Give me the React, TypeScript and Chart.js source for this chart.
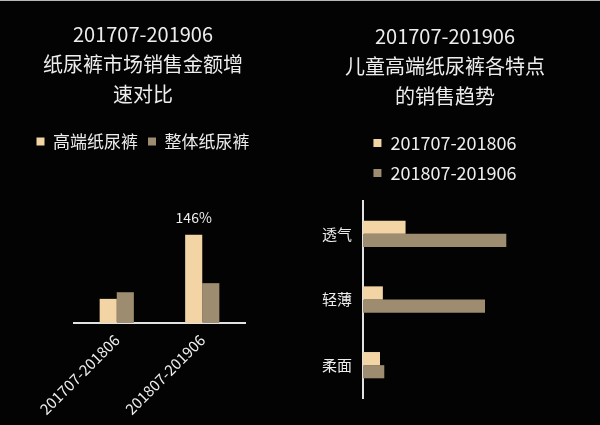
import React, { useEffect, useRef } from "react";
import { Chart, registerables } from "chart.js";

Chart.register(...registerables);

// ---------- data ----------
const leftTitle = ["201707-201906", "纸尿裤市场销售金额增", "速对比"];
const leftCategories = ["201707-201806", "201807-201906"];
const leftSeriesNames = ["高端纸尿裤", "整体纸尿裤"];
const premiumGrowth = [40, 146];
const overallGrowth = [51, 66];
const premiumValueLabels = ["", "146%"];

const rightTitle = ["201707-201906", "儿童高端纸尿裤各特点", "的销售趋势"];
const features = ["透气", "轻薄", "柔面"];
const periodNames = ["201707-201806", "201807-201906"];
const period1Values = [30, 14, 12];
const period2Values = [101, 86, 15];

// ---------- styles ----------
const LIGHT = "#F2D4A5";
const DARK = "#9D8C70";
const TEXT = "#EDEDED";
const AXIS = "#E2E2E2";
const FONT = '"Noto Sans CJK SC", "Noto Sans", sans-serif';

const valueLabelPlugin = {
  id: "valueLabels",
  afterDatasetsDraw(chart: any) {
    const meta = chart.getDatasetMeta(0);
    const ctx = chart.ctx;
    ctx.save();
    ctx.fillStyle = TEXT;
    ctx.font = `14px ${FONT}`;
    ctx.textAlign = "center";
    ctx.textBaseline = "bottom";
    meta.data.forEach((el: any, i: number) => {
      const t = premiumValueLabels[i];
      if (t) ctx.fillText(t, el.x, el.y - 10);
    });
    ctx.restore();
  },
};

function LeftChart() {
  const ref = useRef<HTMLCanvasElement>(null);
  useEffect(() => {
    const chart = new Chart(ref.current!, {
      type: "bar",
      data: {
        labels: leftCategories,
        datasets: [
          { label: leftSeriesNames[0], data: premiumGrowth, backgroundColor: LIGHT },
          { label: leftSeriesNames[1], data: overallGrowth, backgroundColor: DARK },
        ],
      },
      options: {
        responsive: false,
        animation: false,
        datasets: { bar: { categoryPercentage: 0.4, barPercentage: 1 } },
        plugins: {
          title: {
            display: true,
            text: leftTitle,
            color: TEXT,
            font: { size: 20, family: FONT, weight: "normal", lineHeight: 1.5 },
            padding: { top: 18, bottom: 14 },
          },
          legend: {
            display: true,
            labels: {
              color: TEXT,
              font: { size: 17, family: FONT },
              boxWidth: 8,
              boxHeight: 8,
              padding: 10,
            },
          },
          tooltip: { enabled: false },
        },
        scales: {
          x: {
            grid: { display: false, drawTicks: false },
            border: { display: true, color: AXIS, width: 2 },
            ticks: {
              color: TEXT,
              font: { size: 15, family: FONT },
              minRotation: 45,
              maxRotation: 45,
              autoSkip: false,
              padding: 8,
            },
            afterFit: (s: any) => {
              s.height = 103;
            },
          },
          y: {
            min: 0,
            max: 270,
            grid: { display: false, drawTicks: false },
            border: { display: false },
            ticks: { display: false },
            afterFit: (s: any) => {
              s.width = 74;
            },
          },
          yR: {
            position: "right",
            grid: { display: false, drawTicks: false },
            border: { display: false },
            ticks: { display: false },
            afterFit: (s: any) => {
              s.width = 41;
            },
          },
        },
      } as any,
      plugins: [valueLabelPlugin],
    });
    return () => chart.destroy();
  }, []);
  return (
    <canvas
      ref={ref}
      width={286}
      height={425}
      style={{ position: "absolute", left: 0, top: 0 }}
    />
  );
}

function RightChart() {
  const ref = useRef<HTMLCanvasElement>(null);
  useEffect(() => {
    const chart = new Chart(ref.current!, {
      type: "bar",
      data: {
        labels: features,
        datasets: [
          { label: periodNames[0], data: period1Values, backgroundColor: LIGHT },
          { label: periodNames[1], data: period2Values, backgroundColor: DARK },
        ],
      },
      options: {
        indexAxis: "y",
        responsive: false,
        animation: false,
        layout: { padding: { bottom: 28 } },
        datasets: { bar: { categoryPercentage: 0.4, barPercentage: 1 } },
        plugins: {
          title: {
            display: true,
            text: rightTitle,
            color: TEXT,
            font: { size: 20, family: FONT, weight: "normal", lineHeight: 1.5 },
            padding: { top: 20, bottom: 11 },
          },
          legend: {
            display: true,
            labels: {
              color: TEXT,
              font: { size: 18, family: FONT },
              boxWidth: 8,
              boxHeight: 8,
              padding: 12,
            },
          },
          tooltip: { enabled: false },
        },
        scales: {
          x: {
            position: "top",
            min: 0,
            max: 160,
            grid: { display: false, drawTicks: false },
            border: { display: false },
            ticks: { display: false },
            afterFit: (s: any) => {
              s.height = 9;
            },
          },
          y: {
            grid: { display: false, drawTicks: false },
            border: { display: true, color: AXIS, width: 2 },
            ticks: { color: TEXT, font: { size: 15, family: FONT }, padding: 11 },
            afterFit: (s: any) => {
              s.width = 63;
            },
          },
        },
      } as any,
    });
    return () => chart.destroy();
  }, []);
  return (
    <canvas
      ref={ref}
      width={290}
      height={425}
      style={{ position: "absolute", left: 300, top: 0 }}
    />
  );
}

export default function App() {
  return (
    <div
      style={{
        position: "fixed",
        left: 0,
        top: 0,
        width: 600,
        height: 425,
        background: "#030303",
        overflow: "hidden",
        boxSizing: "border-box",
        borderTop: "1px solid #b8b8b8",
      }}
    >
      <LeftChart />
      <RightChart />
    </div>
  );
}
